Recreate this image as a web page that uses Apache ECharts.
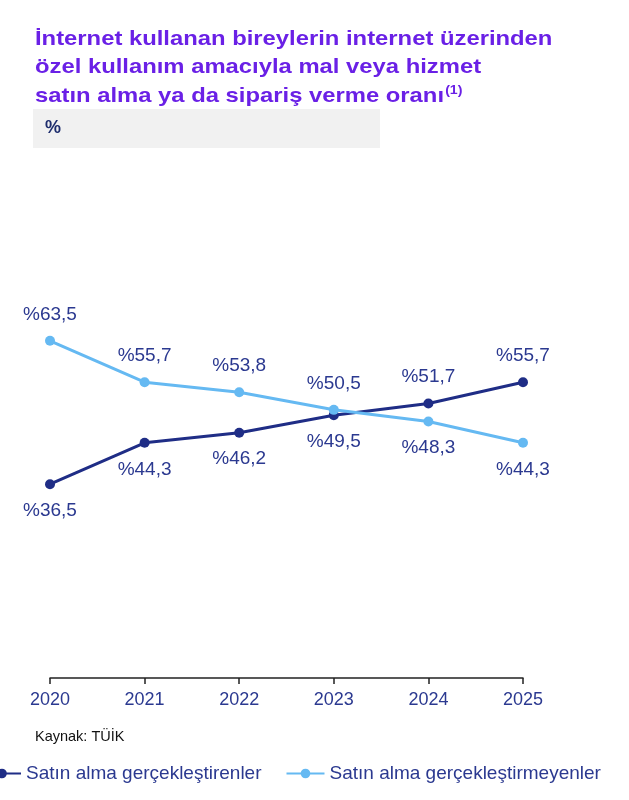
<!DOCTYPE html>
<html>
<head>
<meta charset="utf-8">
<script src="https://cdn.jsdelivr.net/npm/echarts@6/dist/echarts.min.js"></script>
<style>
html,body{margin:0;padding:0;background:#fff;}
#c{width:629px;height:800px;}
</style>
</head>
<body>
<div id="c"></div>
<script>
const years = ['2020','2021','2022','2023','2024','2025'];
const buyers = [36.5, 44.3, 46.2, 49.5, 51.7, 55.7];
const nonBuyers = [63.5, 55.7, 53.8, 50.5, 48.3, 44.3];
const seriesNames = ['Satın alma gerçekleştirenler', 'Satın alma gerçekleştirmeyenler'];
const titleLines = ['İnternet kullanan bireylerin internet üzerinden', 'özel kullanım amacıyla mal veya hizmet', 'satın alma ya da sipariş verme oranı'];
const unitLabel = '%';
const sourceText = 'Kaynak: TÜİK';

const FONT = '"Liberation Sans", Arial, Helvetica, sans-serif';
const DARK = '#1F2D86';
const LIGHT = '#65B9F2';
const TEXT = '#2B3990';
const PURPLE = '#6A20E6';
const TSX = 1.134;

function fmt(v){ return '%' + v.toFixed(1).replace('.', ','); }

function buildData(own, other){
  return own.map((v, i) => ({
    value: v,
    label: { position: v >= other[i] ? 'top' : 'bottom' }
  }));
}

const chart = echarts.init(document.getElementById('c'), null, {renderer:'canvas'});
const labelStyle = {
  show: true,
  formatter: p => fmt(p.value),
  color: TEXT,
  fontSize: 19,
  fontFamily: FONT,
  distance: 12
};

chart.setOption({
  animation: false,
  backgroundColor: '#fff',
  textStyle: { fontFamily: FONT },
  graphic: [
    { type: 'text', x: 35, y: 29, scaleX: TSX, style: { text: titleLines[0], font: 'bold 21px ' + FONT, fill: PURPLE } },
    { type: 'text', x: 35, y: 56.5, scaleX: TSX, style: { text: titleLines[1], font: 'bold 21px ' + FONT, fill: PURPLE } },
    { type: 'text', x: 35, y: 84, scaleX: TSX, style: {
        text: '{a|' + titleLines[2] + '}{s|(1)}',
        rich: {
          a: { font: 'bold 21px ' + FONT, fill: PURPLE, color: PURPLE },
          s: { font: 'bold 12.5px ' + FONT, fill: PURPLE, color: PURPLE, verticalAlign: 'top', padding: [0,0,12,1] }
        }
      } },
    { type: 'rect', shape: { x: 33, y: 109, width: 347, height: 39 }, style: { fill: '#F1F1F1' } },
    { type: 'text', x: 45, y: 119, style: { text: unitLabel, font: 'bold 18px ' + FONT, fill: '#1F2E6E' } },
    { type: 'text', x: 35, y: 729, style: { text: sourceText, font: '14.5px ' + FONT, fill: '#111' } }
  ],
  grid: { left: 50, right: 106, top: 147, bottom: 122, containLabel: false },
  legend: {
    left: -23, top: 759,
    itemWidth: 38, itemHeight: 12, itemGap: 24,
    textStyle: { color: TEXT, fontSize: 19, fontFamily: FONT },
    data: seriesNames
  },
  xAxis: {
    type: 'category',
    data: years,
    boundaryGap: false,
    axisLine: { lineStyle: { color: '#222', width: 1.5 } },
    axisTick: { show: true, length: 6, lineStyle: { color: '#222', width: 1.5 } },
    axisLabel: { color: TEXT, fontSize: 18, fontFamily: FONT, margin: 13 },
    splitLine: { show: false }
  },
  yAxis: { type: 'value', min: 0, max: 100, show: false, splitLine: { show: false } },
  series: [
    {
      name: seriesNames[0], type: 'line',
      data: buildData(buyers, nonBuyers),
      color: DARK,
      lineStyle: { width: 3, color: DARK },
      itemStyle: { color: DARK },
      symbol: 'circle', symbolSize: 10,
      label: labelStyle,
      z: 3
    },
    {
      name: seriesNames[1], type: 'line',
      data: buildData(nonBuyers, buyers),
      color: LIGHT,
      lineStyle: { width: 3, color: LIGHT },
      itemStyle: { color: LIGHT },
      symbol: 'circle', symbolSize: 10,
      label: labelStyle,
      z: 4
    }
  ]
});
</script>
</body>
</html>
